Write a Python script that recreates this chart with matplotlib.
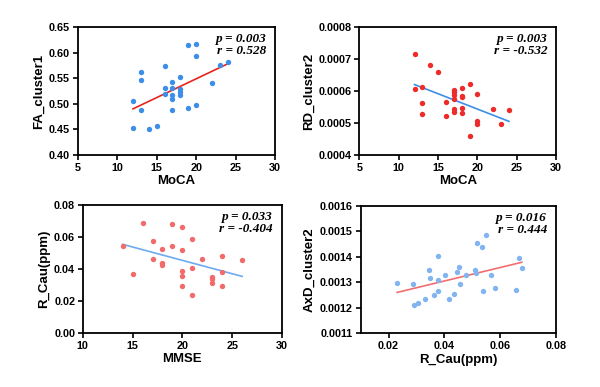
import numpy as np
import matplotlib
matplotlib.use("Agg")
import matplotlib.pyplot as plt

plt.rcParams["font.family"] = ["Liberation Sans", "DejaVu Sans"]

# Panel A: MoCA vs FA_cluster1
moca_a = [12, 12, 13, 13, 13, 14, 15, 16, 16, 16, 17, 17, 17, 17, 17,
          18, 18, 18, 18, 19, 19, 20, 20, 20, 22, 23, 24]
fa = [0.505, 0.452, 0.562, 0.546, 0.487, 0.451, 0.457, 0.573, 0.530, 0.520,
      0.542, 0.530, 0.517, 0.510, 0.487, 0.552, 0.528, 0.523, 0.517, 0.615,
      0.491, 0.617, 0.593, 0.498, 0.541, 0.576, 0.581]
fa_fit = ([12, 24], [0.490, 0.578])

# Panel B: MoCA vs RD_cluster2
moca_b = [12, 12, 13, 13, 13, 14, 15, 16, 16, 17, 17, 17, 17, 17, 17,
          18, 18, 18, 18, 18, 19, 19, 20, 20, 20, 22, 23, 24]
rd = [0.000716, 0.000606, 0.000613, 0.000563, 0.000529, 0.000680, 0.000658,
      0.000564, 0.000521, 0.000604, 0.000596, 0.000586, 0.000575, 0.000545,
      0.000533, 0.000608, 0.000583, 0.000580, 0.000546, 0.000530, 0.000623,
      0.000460, 0.000592, 0.000507, 0.000497, 0.000545, 0.000498, 0.000541]
rd_fit = ([12, 24], [0.000620, 0.000505])

# Panel C: MMSE vs R_Cau
mmse = [14, 15, 16, 17, 17, 18, 18, 18, 19, 19, 20, 20, 20, 20, 20,
        21, 21, 21, 22, 23, 23, 23, 24, 24, 24, 26]
rcau = [0.0542, 0.0368, 0.0684, 0.0576, 0.0459, 0.0524, 0.0438, 0.0422,
        0.0680, 0.0544, 0.0663, 0.0515, 0.0384, 0.0353, 0.0295, 0.0588,
        0.0407, 0.0237, 0.0459, 0.0351, 0.0337, 0.0310, 0.0482, 0.0382,
        0.0293, 0.0453]
rcau_fit = ([14, 26], [0.0553, 0.0353])

# Panel D: R_Cau vs AxD_cluster2
rcau_d = [0.0231, 0.0287, 0.0292, 0.0306, 0.0332, 0.0346, 0.0348, 0.0363,
          0.0376, 0.0377, 0.0379, 0.0402, 0.0418, 0.0433, 0.0447, 0.0453,
          0.0455, 0.0476, 0.0511, 0.0512, 0.0517, 0.0536, 0.0537, 0.0548,
          0.0569, 0.0581, 0.0657, 0.0669, 0.0678]
axd = [0.001295, 0.001291, 0.001211, 0.001220, 0.001233, 0.001348, 0.001318,
       0.001248, 0.001403, 0.001310, 0.001266, 0.001330, 0.001236, 0.001253,
       0.001338, 0.001361, 0.001293, 0.001327, 0.001347, 0.001335, 0.001452,
       0.001437, 0.001266, 0.001485, 0.001328, 0.001279, 0.001271, 0.001396,
       0.001357]
axd_fit = ([0.0231, 0.0678], [0.001260, 0.001378])

panels = [
    dict(rect=[0.1295, 0.5995, 0.329, 0.331], x=moca_a, y=fa, fit=fa_fit,
         pc="#3d8ee8", lc="#e8231c", xlabel="MoCA", ylabel="FA_cluster1",
         xlim=(5, 30), xt=[5, 10, 15, 20, 25, 30], ylim=(0.40, 0.65),
         yt=[0.40, 0.45, 0.50, 0.55, 0.60, 0.65], yfmt="{:.2f}", xfmt="{:g}",
         p="0.003", r="0.528"),
    dict(rect=[0.599, 0.5995, 0.328, 0.331], x=moca_b, y=rd, fit=rd_fit,
         pc="#ee2b2b", lc="#3d8ee8", xlabel="MoCA", ylabel="RD_cluster2",
         xlim=(5, 30), xt=[5, 10, 15, 20, 25, 30], ylim=(0.0004, 0.0008),
         yt=[0.0004, 0.0005, 0.0006, 0.0007, 0.0008], yfmt="{:.4f}", xfmt="{:g}",
         p="0.003", r="-0.532"),
    dict(rect=[0.138, 0.1395, 0.332, 0.3315], x=mmse, y=rcau, fit=rcau_fit,
         pc="#f26a6a", lc="#6eaaf0", xlabel="MMSE", ylabel="R_Cau(ppm)",
         xlim=(10, 30), xt=[10, 15, 20, 25, 30], ylim=(0, 0.08),
         yt=[0, 0.02, 0.04, 0.06, 0.08], yfmt="{:.2f}", xfmt="{:g}",
         p="0.033", r="-0.404"),
    dict(rect=[0.601, 0.1388, 0.3255, 0.33], x=rcau_d, y=axd, fit=axd_fit,
         pc="#82b4f0", lc="#f26e6e", xlabel="R_Cau(ppm)", ylabel="AxD_cluster2",
         xlim=(0.01, 0.08), xt=[0.02, 0.04, 0.06, 0.08], ylim=(0.0011, 0.0016),
         yt=[0.0011, 0.0012, 0.0013, 0.0014, 0.0015, 0.0016], yfmt="{:.4f}",
         xfmt="{:.2f}", p="0.016", r="0.444"),
]

fig = plt.figure(figsize=(6, 3.87), dpi=100)

for P in panels:
    ax = fig.add_axes(P["rect"])
    ax.scatter(P["x"], P["y"], s=15, color=P["pc"], linewidths=0, zorder=3)
    ax.plot(P["fit"][0], P["fit"][1], color=P["lc"], lw=1.2, zorder=2)
    ax.set_xlim(*P["xlim"])
    ax.set_ylim(*P["ylim"])
    ax.set_xticks(P["xt"])
    ax.set_xticklabels([P["xfmt"].format(v) for v in P["xt"]])
    ax.set_yticks(P["yt"])
    ax.set_yticklabels([P["yfmt"].format(v) for v in P["yt"]])
    for s in ax.spines.values():
        s.set_linewidth(1.3)
        s.set_color("black")
    ax.tick_params(direction="out", length=3.5, width=1.2, labelsize=7.8, pad=2)
    for lab in ax.get_xticklabels() + ax.get_yticklabels():
        lab.set_fontweight("bold")
    ax.set_xlabel(P["xlabel"], fontsize=9.5, fontweight="bold", labelpad=2)
    ax.set_ylabel(P["ylabel"], fontsize=9.5, fontweight="bold", labelpad=3)
    ax.text(0.955, 0.95, f"p = {P['p']}\nr = {P['r']}", transform=ax.transAxes,
            ha="right", va="top", fontsize=9.5, fontweight="bold",
            fontstyle="italic", family="Liberation Serif", linespacing=1.0)

fig.savefig("out.png", dpi=100)
